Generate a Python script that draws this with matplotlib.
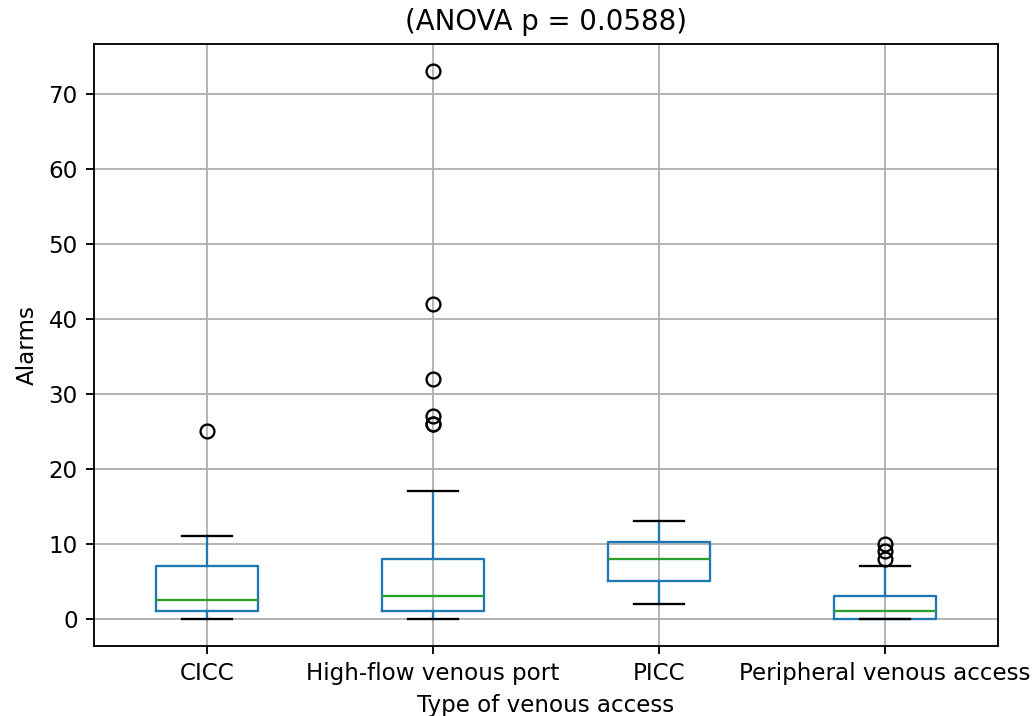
# plot.py
# Boxplot of alarms per type of venous access (pandas-style boxplot look).

import matplotlib
matplotlib.use('Agg')
import matplotlib.pyplot as plt

# values
groups = ['CICC', 'High-flow venous port', 'PICC', 'Peripheral venous access']
medians = [2.5, 3, 8, 1]
q1_values = [1, 1, 5, 0]
q3_values = [7, 8, 10.25, 3]
whisker_low = [0, 0, 2, 0]
whisker_high = [11, 17, 13, 7]
outliers = [[25], [26, 26, 27, 32, 42, 73], [], [8, 9, 10]]

stats = []
for i, name in enumerate(groups):
    stats.append({
        'label': name,
        'med': medians[i],
        'q1': q1_values[i],
        'q3': q3_values[i],
        'whislo': whisker_low[i],
        'whishi': whisker_high[i],
        'fliers': outliers[i],
    })

DPI = 166
fig = plt.figure(figsize=(1035 / DPI, 716 / DPI), dpi=DPI)
axis = fig.add_axes([94 / 1035, 70 / 716, (998 - 94) / 1035, (646 - 44) / 716])

axis.bxp(
    stats,
    widths=0.45,
    boxprops={'color': 'C0'},
    whiskerprops={'color': 'C0'},
    capprops={'color': 'k'},
    medianprops={'color': 'C2'},
    flierprops={'marker': 'o', 'markeredgecolor': 'k', 'markerfacecolor': 'none'},
)
axis.grid(True)
axis.set_axisbelow(True)
axis.set_title('(ANOVA p = 0.0588)')
axis.set_xlabel('Type of venous access')
axis.set_ylabel('Alarms')

fig.savefig('out.png', dpi=DPI)
